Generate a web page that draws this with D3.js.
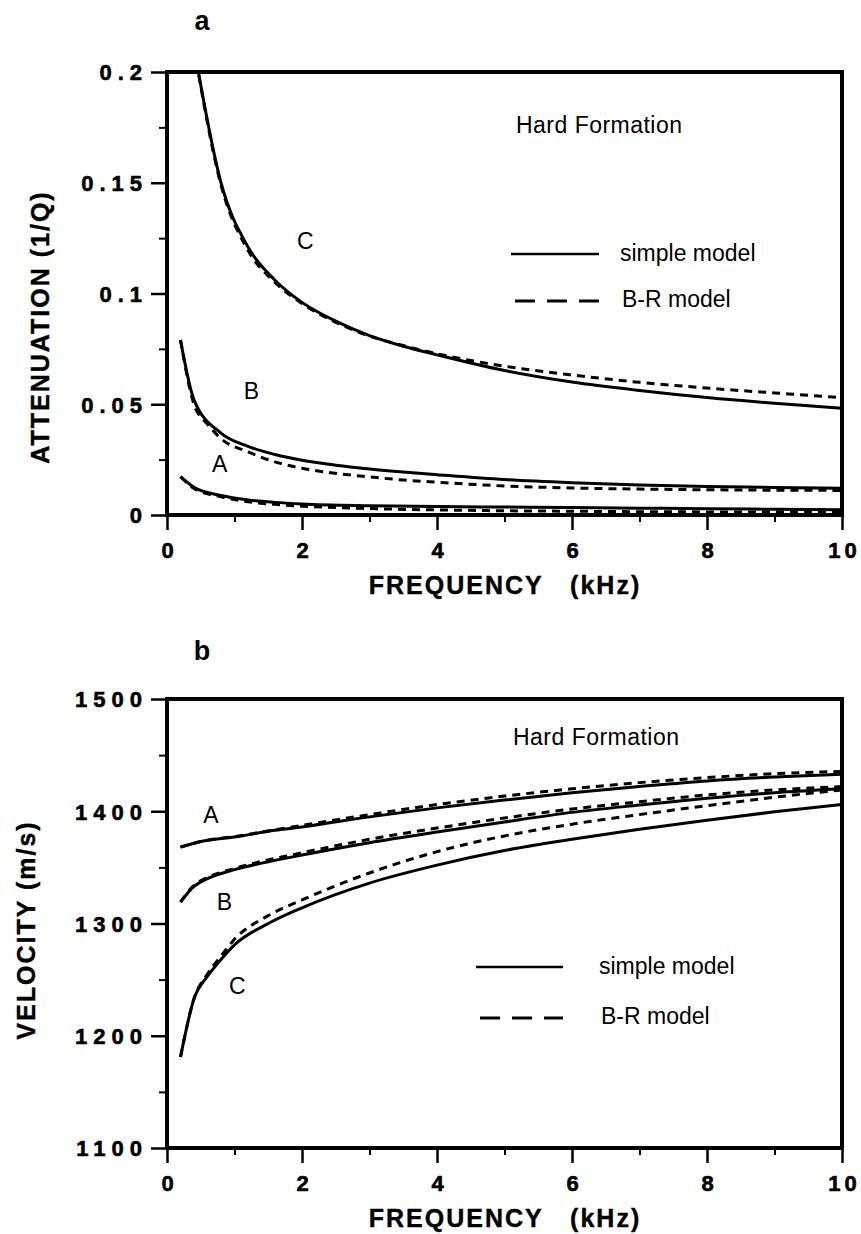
<!DOCTYPE html>
<html>
<head>
<meta charset="utf-8">
<script src="https://cdn.jsdelivr.net/npm/d3@7/dist/d3.min.js"></script>
<style>
  html, body { margin: 0; padding: 0; background: #fff; }
  svg { display: block; }
  .tick text { font-family: "Liberation Sans", Arial, sans-serif; font-weight: bold; font-size: 22px; fill: #000; stroke: #000; stroke-width: 0.6px; }
  .lbl { font-family: "Liberation Sans", Arial, sans-serif; fill: #000; }
</style>
</head>
<body>
<svg id="fig" width="861" height="1234"></svg>
<script>
// ---- shared frequency axis ----
const freqTicks = [0, 2, 4, 6, 8, 10];
const freqMinor = [1, 3, 5, 7, 9];

// ---- panel a: attenuation (1/Q) ----
const attTicks = [0, 0.05, 0.1, 0.15, 0.2];
const attTickLabels = ["0", "0.05", "0.1", "0.15", "0.2"];
const attMinor = [0.025, 0.075, 0.125, 0.175];

// [frequency kHz, 1/Q]
const attA_simple = [[0.2,0.0173],[0.4,0.0125],[0.8,0.0088],[1.2,0.0068],[1.6,0.0057],[2,0.0050],[3,0.0042],[4,0.0038],[5,0.0036],[6,0.0034],[7,0.0031],[8,0.0028],[9,0.0026],[10,0.0024]];
const attA_br     = [[0.2,0.0173],[0.4,0.0120],[0.8,0.0082],[1.2,0.0060],[1.6,0.0048],[2,0.0040],[3,0.0029],[4,0.0023],[5,0.0019],[6,0.0017],[7,0.0015],[8,0.0014],[9,0.0013],[10,0.0013]];
const attB_simple = [[0.2,0.079],[0.4,0.052],[0.8,0.037],[1.2,0.031],[1.6,0.0273],[2,0.0247],[2.5,0.0225],[3,0.0208],[3.5,0.0194],[4,0.0182],[5,0.0160],[6,0.0146],[7,0.0136],[8,0.0129],[9,0.0124],[10,0.0121]];
const attB_br     = [[0.2,0.079],[0.4,0.050],[0.6,0.041],[0.8,0.0345],[1.2,0.0285],[1.6,0.0240],[2,0.0211],[2.5,0.0188],[3,0.0172],[3.5,0.0158],[4,0.0148],[5,0.0131],[6,0.0122],[7,0.0117],[8,0.0114],[9,0.0112],[10,0.0111]];
const attC_simple = [[0.4,0.211],[0.8,0.150],[1.2,0.121],[1.6,0.106],[2,0.096],[2.5,0.0875],[3,0.081],[3.5,0.0762],[4,0.0723],[5,0.0652],[6,0.0600],[7,0.0562],[8,0.0530],[9,0.0504],[10,0.0482]];
const attC_br     = [[0.4,0.211],[0.8,0.149],[1.2,0.1195],[1.6,0.105],[2,0.0955],[2.5,0.087],[3,0.0808],[3.5,0.0765],[4,0.0728],[5,0.0672],[6,0.0632],[7,0.0599],[8,0.0573],[9,0.0551],[10,0.0530]];

// ---- panel b: velocity (m/s) ----
const velTicks = [1100, 1200, 1300, 1400, 1500];
const velTickLabels = ["1100", "1200", "1300", "1400", "1500"];
const velMinor = [1150, 1250, 1350, 1450];

const velA_simple = [[0.2,1368],[0.5,1373],[1,1377],[1.6,1383],[2,1386],[3,1395],[4,1403],[5,1410],[6,1416.5],[7,1422],[8,1427],[9,1430.5],[10,1433]];
const velA_br     = [[0.2,1368],[0.5,1373],[1,1377.5],[2,1387.5],[3,1397],[4,1406],[5,1413.5],[6,1420],[7,1425.5],[8,1430],[9,1433.5],[10,1435.5]];
const velB_simple = [[0.2,1319],[0.4,1333],[0.6,1340],[1,1348],[1.5,1355],[2,1361],[3,1372],[4,1381.5],[5,1390.5],[6,1399],[7,1405.5],[8,1411.5],[9,1416.5],[10,1420]];
const velB_br     = [[0.2,1319],[0.4,1334],[0.6,1341],[1,1349],[2,1363],[3,1375],[4,1385],[5,1394],[6,1402],[7,1408.5],[8,1414.5],[9,1419],[10,1422]];
const velC_simple = [[0.2,1181],[0.4,1233],[0.6,1253],[0.8,1268],[1,1281],[1.5,1300],[2,1314],[3,1336],[4,1352],[5,1365],[6,1375],[7,1384],[8,1392],[9,1399.5],[10,1406]];
const velC_br     = [[0.2,1181],[0.4,1233],[0.6,1255],[0.8,1271],[1,1286],[1.5,1307],[2,1321],[3,1345],[4,1364],[5,1378],[6,1388.5],[7,1397],[8,1405],[9,1412.5],[10,1419]];

const svg = d3.select("#fig");

function drawPanel(p) {
  const x = d3.scaleLinear().domain([0, 10]).range([167, 842]);
  const y = d3.scaleLinear().domain(p.domain).range([p.bottom, p.top]);
  const g = svg.append("g");

  const clipId = "clip-" + p.id;
  svg.append("clipPath").attr("id", clipId)
    .append("rect").attr("x", 167).attr("y", p.top).attr("width", 675).attr("height", p.bottom - p.top);

  // minor ticks
  g.append("g").attr("transform", `translate(0,${p.bottom})`)
    .call(d3.axisBottom(x).tickValues(freqMinor).tickSize(7).tickFormat(""))
    .call(s => s.select(".domain").remove())
    .selectAll("line").attr("stroke-width", 2);
  g.append("g").attr("transform", "translate(167,0)")
    .call(d3.axisLeft(y).tickValues(p.minor).tickSize(8).tickFormat(""))
    .call(s => s.select(".domain").remove())
    .selectAll("line").attr("stroke-width", 2);

  // major ticks with labels
  const xa = g.append("g").attr("transform", `translate(0,${p.bottom})`)
    .call(d3.axisBottom(x).tickValues(freqTicks).tickSize(15).tickPadding(12).tickFormat(d3.format("d")));
  xa.select(".domain").remove();
  xa.selectAll("line").attr("stroke-width", 2.5);
  xa.selectAll("text").attr("letter-spacing", "4px").attr("dx", "2px");

  const ya = g.append("g").attr("transform", "translate(167,0)")
    .call(d3.axisLeft(y).tickValues(p.ticks).tickSize(16).tickPadding(3)
      .tickFormat((d, i) => p.tickLabels[i]));
  ya.select(".domain").remove();
  ya.selectAll("line").attr("stroke-width", 2.5);
  ya.selectAll("text").attr("dy", "0.36em").attr("letter-spacing", "6px");

  // frame
  g.append("rect").attr("x", 167).attr("y", p.top).attr("width", 675).attr("height", p.bottom - p.top)
    .attr("fill", "none").attr("stroke", "#000").attr("stroke-width", 4);

  // curves
  const line = d3.line().x(d => x(d[0])).y(d => y(d[1])).curve(d3.curveMonotoneX);
  const cg = g.append("g").attr("clip-path", `url(#${clipId})`);
  p.series.forEach(s => {
    cg.append("path").datum(s.data).attr("d", line)
      .attr("fill", "none").attr("stroke", "#000")
      .attr("stroke-width", 3)
      .attr("stroke-linejoin", "round")
      .attr("stroke-dasharray", s.dashed ? "8,6" : null);
  });

  // curve labels
  p.curveLabels.forEach(c => {
    g.append("text").attr("class", "lbl").attr("x", x(c.f)).attr("y", y(c.v))
      .attr("text-anchor", "middle").attr("dy", "0.36em")
      .attr("font-size", 23).text(c.t);
  });

  // panel letter
  g.append("text").attr("class", "lbl").attr("x", 202).attr("y", p.letterY)
    .attr("text-anchor", "middle").attr("font-size", 27).attr("font-weight", "bold").text(p.letter);

  // annotation
  g.append("text").attr("class", "lbl").attr("x", p.noteX).attr("y", p.noteY)
    .attr("font-size", 23).attr("textLength", 166).text("Hard Formation");

  // legend
  const L = p.legend;
  g.append("line").attr("x1", L.x1).attr("x2", L.x2).attr("y1", L.y1).attr("y2", L.y1)
    .attr("stroke", "#000").attr("stroke-width", 2.4);
  g.append("line").attr("x1", L.x1 + 4).attr("x2", L.x2).attr("y1", L.y2).attr("y2", L.y2)
    .attr("stroke", "#000").attr("stroke-width", 2.8).attr("stroke-dasharray", "20,12");
  g.append("text").attr("class", "lbl").attr("x", L.tx).attr("y", L.y1 + 7).attr("font-size", 23).text("simple model");
  g.append("text").attr("class", "lbl").attr("x", L.tx + 2).attr("y", L.y2 + 6).attr("font-size", 23).text("B-R model");

  // axis titles
  g.append("text").attr("class", "lbl").attr("x", 505).attr("y", p.bottom + 79)
    .attr("text-anchor", "middle").attr("font-size", 25).attr("font-weight", "bold")
    .attr("stroke", "#000").attr("stroke-width", 0.4)
    .attr("letter-spacing", "2px").attr("xml:space", "preserve").text("FREQUENCY   (kHz)");
  g.append("text").attr("class", "lbl")
    .attr("transform", `translate(${p.yTitleX},${p.yTitleY}) rotate(-90)`)
    .attr("text-anchor", "middle").attr("font-size", 25).attr("font-weight", "bold")
    .attr("stroke", "#000").attr("stroke-width", 0.4)
    .attr("letter-spacing", "2px").text(p.yTitle);
}

drawPanel({
  id: "a", domain: [0, 0.2], top: 72, bottom: 515,
  ticks: attTicks, tickLabels: attTickLabels, minor: attMinor,
  series: [
    { data: attA_simple }, { data: attA_br, dashed: true },
    { data: attB_simple }, { data: attB_br, dashed: true },
    { data: attC_simple }, { data: attC_br, dashed: true }
  ],
  curveLabels: [{ t: "C", f: 2.05, v: 0.124 }, { t: "B", f: 1.25, v: 0.056 }, { t: "A", f: 0.78, v: 0.023 }],
  letter: "a", letterY: 30,
  noteX: 516, noteY: 133,
  legend: { x1: 511, x2: 599, y1: 254, y2: 301, tx: 620 },
  yTitle: "ATTENUATION (1/Q)", yTitleX: 49, yTitleY: 327
});

drawPanel({
  id: "b", domain: [1100, 1500], top: 699, bottom: 1148,
  ticks: velTicks, tickLabels: velTickLabels, minor: velMinor,
  series: [
    { data: velA_simple }, { data: velA_br, dashed: true },
    { data: velB_simple }, { data: velB_br, dashed: true },
    { data: velC_simple }, { data: velC_br, dashed: true }
  ],
  curveLabels: [{ t: "A", f: 0.65, v: 1397 }, { t: "B", f: 0.85, v: 1319 }, { t: "C", f: 1.04, v: 1245 }],
  letter: "b", letterY: 660,
  noteX: 513, noteY: 745,
  legend: { x1: 476, x2: 563, y1: 967, y2: 1018, tx: 599 },
  yTitle: "VELOCITY (m/s)", yTitleX: 35, yTitleY: 930
});
</script>
</body>
</html>
